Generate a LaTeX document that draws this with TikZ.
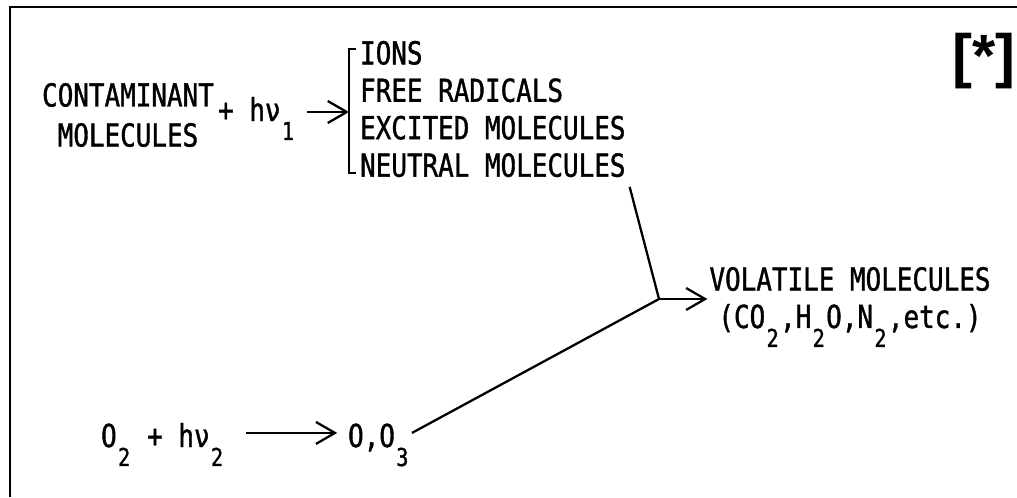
\documentclass[tikz,border=0pt]{standalone}
\usepackage{fontspec}
\usepackage{tikz}
\usetikzlibrary{arrows.meta, positioning, calc}
\newfontfamily\plotter[FakeStretch=0.82, FakeBold=1.2]{DejaVu Sans Mono}
\newfontfamily\labelsans{Liberation Sans Bold}
\newcommand{\lowsub}[1]{\makebox[0.47em]{\raisebox{-0.6em}{\fontsize{14}{14}\selectfont #1}}}

\begin{document}
\begin{tikzpicture}[
  x=0.02cm, y=-0.02cm,
  plot/.style={font=\plotter\fontsize{18}{21.3}\selectfont, inner sep=1pt},
  arrow/.style={-{Straight Barb[length=3.8mm, width=4.4mm]}, line width=1.3pt},
  link/.style={line width=1.3pt}
]
\useasboundingbox (0,0) rectangle (1017,497);
\draw[line width=1.4pt] (1017,7) -- (10,7) -- (10,497);

\node[plot, align=center] (contam) at (128,115) {CONTAMINANT\\[1.5pt]MOLECULES};
\node[plot, anchor=base west] (hnu1) at (216,121) {+ hν\lowsub{1}};
\coordinate (brk) at (349,112);
\node[plot, align=left, anchor=west] (products) at (358,109) {IONS\\FREE RADICALS\\EXCITED MOLECULES\\NEUTRAL MOLECULES};
\draw[link] ($(brk)+(7,-63)$) -- ($(brk)+(0,-63)$) -- ($(brk)+(0,61)$) -- ($(brk)+(7,61)$);
\draw[arrow, shorten <=5.5pt] (hnu1.east |- brk) -- (brk);

\coordinate (join) at (659,299);
\node[plot, align=center] (volatile) at (850,307) {VOLATILE MOLECULES\\(CO\lowsub{2},H\lowsub{2}O,N\lowsub{2},etc.)};
\draw[link, shorten <=4.5pt] (products.south east) -- (join);
\draw[arrow] (join) -- (volatile.west |- join);

\node[plot, anchor=base west] (otwo) at (99,447) {O\lowsub{2} + hν\lowsub{2}};
\node[plot, anchor=base west] (oxy) at (346,447) {O,O\lowsub{3}};
\draw[arrow, shorten <=11pt, shorten >=5pt] ([yshift=8pt]otwo.base east) -- ([yshift=8pt]oxy.base west);
\draw[link] ([yshift=8pt]oxy.base east) -- (join);

\node[font=\labelsans\fontsize{34}{34}\selectfont, inner sep=0pt] (star) at (984,61) {[*]};
\end{tikzpicture}
\end{document}
